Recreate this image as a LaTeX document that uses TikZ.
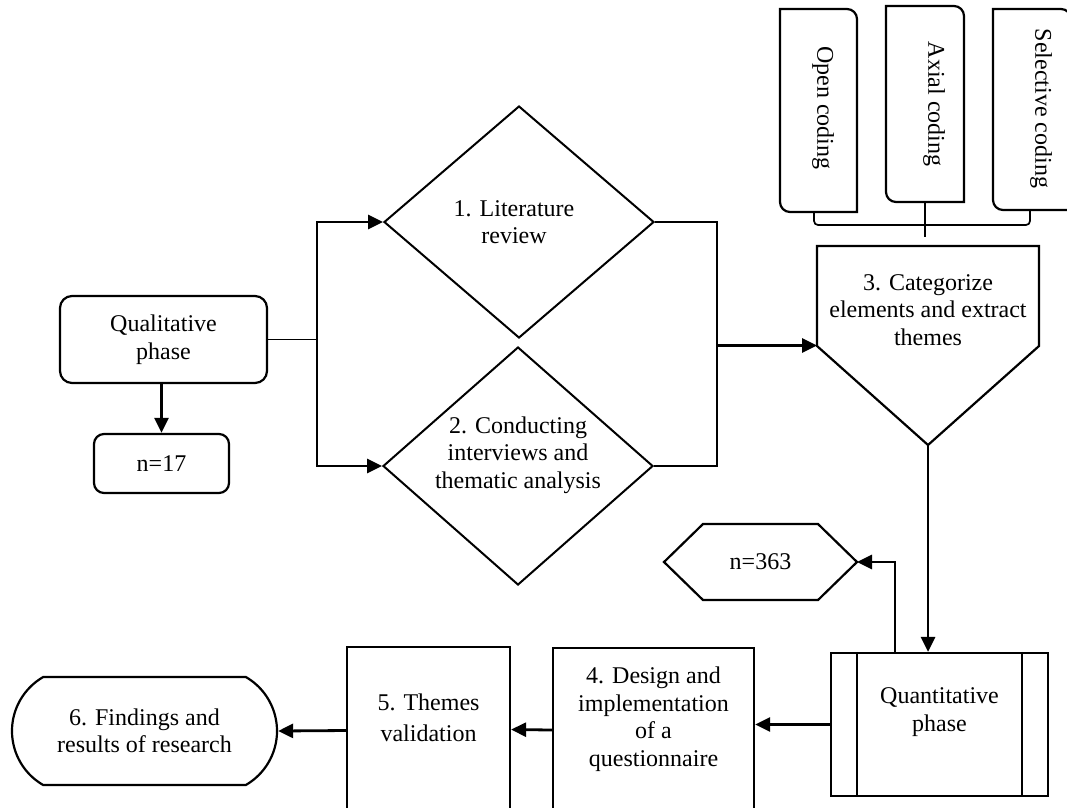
\documentclass[tikz,border=0pt]{standalone}
\usepackage{fontspec}
\setmainfont{Liberation Serif}
\usetikzlibrary{shapes.geometric,shapes.misc,arrows.meta,calc}
\newcommand\rcbox[1]{%
  \draw[box] (#1.north west) -- ($(#1.north east)+(-10,0)$)
    .. controls ($(#1.north east)+(-4.5,0)$) and ($(#1.north east)+(0,4.5)$) .. ($(#1.north east)+(0,10)$)
    -- (#1.south east) -- ($(#1.south west)+(10,0)$)
    .. controls ($(#1.south west)+(4.5,0)$) and ($(#1.south west)+(0,-4.5)$) .. ($(#1.south west)+(0,-10)$)
    -- cycle;}
\begin{document}
\begin{tikzpicture}[x=1pt,y=-1pt,
  txt/.style={align=center,font=\fontsize{24}{27.5}\selectfont,inner sep=0pt},
  box/.style={draw,line width=2.2pt},
  ghost/.style={inner sep=0pt,outer sep=0pt},
  lnk/.style={line width=1.7pt},
  arr/.style={line width=2.8pt,-{Triangle[length=15pt,width=14pt]}}]
\fill[white] (0,0) rectangle (1067,807);
\useasboundingbox (0,0) rectangle (1067,807);
\clip (0,0) rectangle (1067,807);

% qualitative part
\node[box,txt,rounded corners=12pt,minimum width=207pt,minimum height=87pt] (qual) at (163.5,339.5) {Qualitative\\phase};
\node[box,txt,rounded corners=10pt,minimum width=135pt,minimum height=59pt] (n17) at (161.5,463.5) {n=17};
\draw[arr] (qual.south -| n17.north) -- (n17.north);

\node[box,diamond,minimum width=270pt,minimum height=232pt,inner sep=0pt,line width=2pt] (d1) at (519,222) {};
\node[txt] (t1) at (514,222) {1. Literature\\review};
\node[box,diamond,minimum width=270pt,minimum height=238pt,inner sep=0pt,line width=2pt] (d2) at (518,466) {};
\node[txt] (t2) at (518,455) {2. Conducting\\interviews and\\thematic analysis};

\coordinate (bj) at (317,339.5);
\draw[lnk] (qual.east) -- (bj);
\draw[arr] (bj) |- (d1.west);
\draw[arr] (bj) |- (d2.west);

% coding boxes
\node[ghost,minimum width=77pt,minimum height=203pt] (oc) at (818.5,110.5) {};
\node[ghost,minimum width=78pt,minimum height=196pt] (ac) at (925,104) {};
\node[ghost,minimum width=78pt,minimum height=201pt] (sc) at (1032,109.5) {};
\rcbox{oc}\rcbox{ac}\rcbox{sc}
\node[txt,rotate=-90] (toc) at (823,108) {Open coding};
\node[txt,rotate=-90] (tac) at (934,104) {Axial coding};
\node[txt,rotate=-90] (tsc) at (1041,108.5) {Selective coding};

% pentagon 3
\node[ghost,minimum width=222pt,minimum height=199pt] (p3) at (928,345.5) {};
\draw[box] (p3.north west) -- (p3.north east) -- ($(p3.north east)+(0,100)$) -- (p3.south) -- ($(p3.north west)+(0,100)$) -- cycle;
\node[txt] (t3) at (928,310) {3. Categorize\\elements and extract\\themes};

% brace from coding boxes
\draw[lnk,rounded corners=4pt] ([xshift=-4.5pt]oc.south) -- ([xshift=-4.5pt]oc.south |- 0,225) -- ([xshift=-2pt]sc.south |- 0,225) -- ([xshift=-2pt]sc.south);
\draw[lnk] (ac.south) -- ($(ac.south |- 0,225)+(0,12)$);

% merge diamonds
\coordinate (mj) at (717,345.5);
\draw[lnk] (d1.east) -| (mj) |- (d2.east);
\draw[arr] (mj) -- (p3.west);

% quantitative part
\node[box,txt,minimum width=217pt,minimum height=143pt] (q) at (939.5,724.5) {};
\draw[box] ([xshift=27pt]q.north west) -- ([xshift=27pt]q.south west);
\draw[box] ([xshift=-27pt]q.north east) -- ([xshift=-27pt]q.south east);
\node[txt] (tq) at (939.5,712) {Quantitative\\phase};
\draw[arr] (p3.south) -- (p3.south |- q.north);

\node[ghost,minimum width=193pt,minimum height=76pt] (hx) at (760.5,562) {};
\draw[box] (hx.west) -- ($(hx.north west)+(39,0)$) -- ($(hx.north east)+(-39,0)$) -- (hx.east) -- ($(hx.south east)+(-39,0)$) -- ($(hx.south west)+(39,0)$) -- cycle;
\node[txt] (thx) at (760.5,562) {n=363};
\draw[arr] ([xshift=-44.5pt]q.north) |- (hx.east);

\node[box,minimum width=201pt,minimum height=182pt] (b4) at (653.5,739) {};
\node[txt] (t4) at (653.5,719) {4. Design and\\implementation\\of a\\questionnaire};
\node[box,minimum width=163pt,minimum height=183pt] (b5) at (428.5,738.5) {};
\node[txt] (t5) at (428.5,718) {5. Themes\\[3pt]validation};
\node[box,txt,rounded rectangle,rounded rectangle arc length=120,minimum width=265pt,minimum height=108pt] (b6) at (144.5,731) {6. Findings and\\results of research};

\draw[arr] (q.west) -- (q.west -| b4.east);
\draw[arr] ([yshift=9pt]b4.west) -- ([yshift=9pt]b5.east);
\draw[arr] ([yshift=8pt]b5.west) -- (b6.east);
\end{tikzpicture}
\end{document}
